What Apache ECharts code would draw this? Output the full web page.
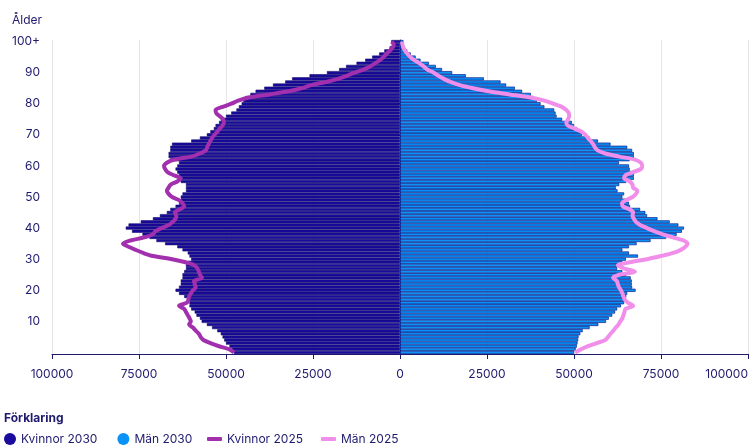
<!DOCTYPE html>
<html>
<head>
<meta charset="utf-8">
<script src="https://cdn.jsdelivr.net/npm/echarts@6/dist/echarts.min.js"></script>
<style>
html,body{margin:0;padding:0;background:#fff;}
#c{width:750px;height:446px;}
</style>
</head>
<body>
<div id="c"></div>
<script>
// Ages 0..100+
var ages = [];
for (var i = 0; i < 100; i++) ages.push(String(i));
ages.push('100+');

var seriesNames = ['Kvinnor 2030', 'Män 2030', 'Kvinnor 2025', 'Män 2025'];

// values in thousands of persons
var kvinnor2030 = [47.7,48.3,49,50,50.5,51,51.5,52.5,54,55.5,
  57,57.5,58.5,59,60,60.5,60.5,61,62,63.5,
  64.5,63.5,63,63,62.5,62.5,62,61.5,61.5,61,
  60,60.5,61,62.5,64,67.5,70,72,74,77,
  78.8,78,74.5,71,69,67,66,64.5,63.5,63,
  63,62.5,61.5,61.5,61.5,63,63.5,63.5,64,64.5,
  64,63.5,66,66.5,66.5,66,66,65.5,60,57.5,
  55.5,54.5,53.5,53,52,51.5,50,48.5,47,46.3,
  45.5,45,44.5,43,41.5,39,36.5,33,31,26,
  21,17.5,15.5,12.5,10,8,6,4.5,3,2,2.5];

var man2030 = [50,50.5,50.8,51,51.2,51.3,51.8,52.5,54.5,57,
  59.2,60,61,61.8,62.4,63.5,64.4,64.7,65,65.3,
  67.7,66.7,66.6,66.6,66.3,65,63.9,62.4,63,63.9,
  64.9,68.4,65.8,63.9,65.8,68,72,76.5,79.5,81,
  81.6,80,77.5,74,71,70.5,69,66.1,65.8,65,
  63.9,64.4,62.5,62,63,65,67.2,67.2,66.3,66,
  65.8,62.9,66,67.2,67.2,66.7,65.3,60.5,56.9,54.5,
  52.3,52.2,50.9,50,49.4,46.6,45,44.7,44.3,41.5,
  40.4,39.4,38.5,37.6,35.1,33,30.5,28.9,24.1,18.9,
  15,12.1,10.3,8.3,5.9,4.5,3.1,2.1,1.2,0.8,1];

var kvinnor2025 = [47.7,49,52,54.5,56.5,57.3,57.8,58.7,59.5,60.6,
  60.1,60.5,61,61.5,62,63.5,61.2,60.8,60.6,60.1,
  59.5,58.7,59,59.2,56.9,57.5,57.8,58.2,59,61.6,
  65.5,71,73.8,76,78,79.6,77.5,73.5,71,70.3,
  68.5,66.5,65.3,64.5,64.3,64.7,63.3,62,62.5,63.5,
  65.5,66.5,67,66.5,65.9,64,63,65,66.8,67.5,
  67.8,67,65,60,57.5,55.8,55.4,55,54.5,54,
  53.3,52.5,51.8,51,50.6,50.8,51.8,52.8,53,51,
  48.5,46.5,43.5,37.5,32,28.1,25.5,21.2,17.8,15.3,
  13,10.5,8.6,7.2,5.8,4.8,3.9,3,2.2,1.8,2.4];

var man2025 = [50.3,52,54,56.5,59,59.8,60.5,61.3,62,62.8,
  63.3,63.9,64.2,64.5,64.8,67,65.5,64.6,64.2,63.9,
  63.5,62.9,62.6,62.3,61.2,63,67.5,64.5,62.6,66,
  71,75,78.5,80.7,82,82.6,81.5,78.5,75.5,73,
  71,69,67.8,67.2,66.8,67,66,64,63.8,65,
  66.8,67.8,68.2,67,66.8,66,64.4,64.8,67,69.2,
  69.6,69.2,67.5,63,59,56.8,56,55.5,54.8,54,
  53.3,52.2,50.2,48.2,47.8,48.3,48.6,48.5,47.8,46.5,
  44,41.5,37.5,31.5,25.5,21,17.2,14.5,12.6,11,
  9.7,7.8,6.8,5.6,4.1,3,2.2,1.5,1,0.7,0.6];

function neg(arr){ return arr.map(function(v){ return -Math.round(v*1000); }); }
function pos(arr){ return arr.map(function(v){ return Math.round(v*1000); }); }
function pairs(arr){ return arr.map(function(v,i){ return [v, ages[i]]; }); }

var navy = '#1e1a6e';
var font = 'Inter, "Noto Sans", sans-serif';

var chart = echarts.init(document.getElementById('c'), null, {renderer:'canvas'});
chart.setOption({
  animation: false,
  textStyle: {fontFamily: font},
  title: {
    text: 'Förklaring', left: 4, top: 412, padding: 0,
    textStyle: {fontFamily: font, fontSize: 12, fontWeight: 'bold', color: navy}
  },
  legend: [{
    data: [{name: seriesNames[0], icon: 'circle'}, {name: seriesNames[1], icon: 'circle'}],
    left: 4, top: 433, padding: 0, itemWidth: 12, itemHeight: 12, itemGap: 20,
    itemStyle: {borderWidth: 0},
    textStyle: {fontFamily: font, fontSize: 12, color: navy}
  },{
    data: [{name: seriesNames[2], icon: 'roundRect'}, {name: seriesNames[3], icon: 'roundRect'}],
    left: 207, top: 433, padding: 0, itemWidth: 15, itemHeight: 4, itemGap: 18,
    itemStyle: {borderWidth: 0},
    textStyle: {fontFamily: font, fontSize: 12, color: navy}
  }],
  graphic: [{
    type: 'text', left: 12, top: 14,
    style: {text: 'Ålder', font: '12px ' + font, fill: navy}
  }],
  grid: {left: 52, right: 2, top: 40, bottom: 92, containLabel: false, outerBoundsMode: 'none'},
  xAxis: {
    type: 'value', min: -100000, max: 100000, interval: 25000,
    axisLine: {show: true, onZero: false, lineStyle: {color: navy, width: 1}},
    axisTick: {show: true, length: 5, lineStyle: {color: navy}},
    axisLabel: {
      fontFamily: font, fontSize: 12, color: navy, margin: 14, alignMaxLabel: 'right',
      formatter: function(v){ return String(Math.abs(v)); }
    },
    splitLine: {show: true, lineStyle: {color: '#e6e6e6', width: 1}}
  },
  yAxis: {
    type: 'category', data: ages,
    axisLine: {show: true, lineStyle: {color: navy, width: 1}},
    axisTick: {show: true, alignWithLabel: true, interval: 9, length: 6, lineStyle: {color: navy}},
    axisLabel: {
      interval: 9, fontFamily: font, fontSize: 12, color: navy, margin: 12,
      formatter: function(v){ return v === '0' ? '' : v; }
    },
    splitLine: {show: false}
  },
  series: [{
    name: seriesNames[0], type: 'bar', stack: 'pop',
    data: neg(kvinnor2030), barCategoryGap: '0%',
    itemStyle: {color: '#1a0a9e', borderColor: '#100a6a', borderWidth: 0.6},
    z: 2
  },{
    name: seriesNames[1], type: 'bar', stack: 'pop',
    data: pos(man2030), barCategoryGap: '0%',
    itemStyle: {color: '#0a93f7', borderColor: '#0c1f8c', borderWidth: 0.7},
    z: 2
  },{
    name: seriesNames[2], type: 'line',
    data: pairs(neg(kvinnor2025)), showSymbol: false, symbol: 'none', smooth: 0.3,
    itemStyle: {color: '#a22fae'},
    lineStyle: {color: '#a22fae', width: 4},
    z: 5
  },{
    name: seriesNames[3], type: 'line',
    data: pairs(pos(man2025)), showSymbol: false, symbol: 'none', smooth: 0.3,
    itemStyle: {color: '#f08eea'},
    lineStyle: {color: '#f08eea', width: 4},
    z: 5
  }]
});
</script>
</body>
</html>
